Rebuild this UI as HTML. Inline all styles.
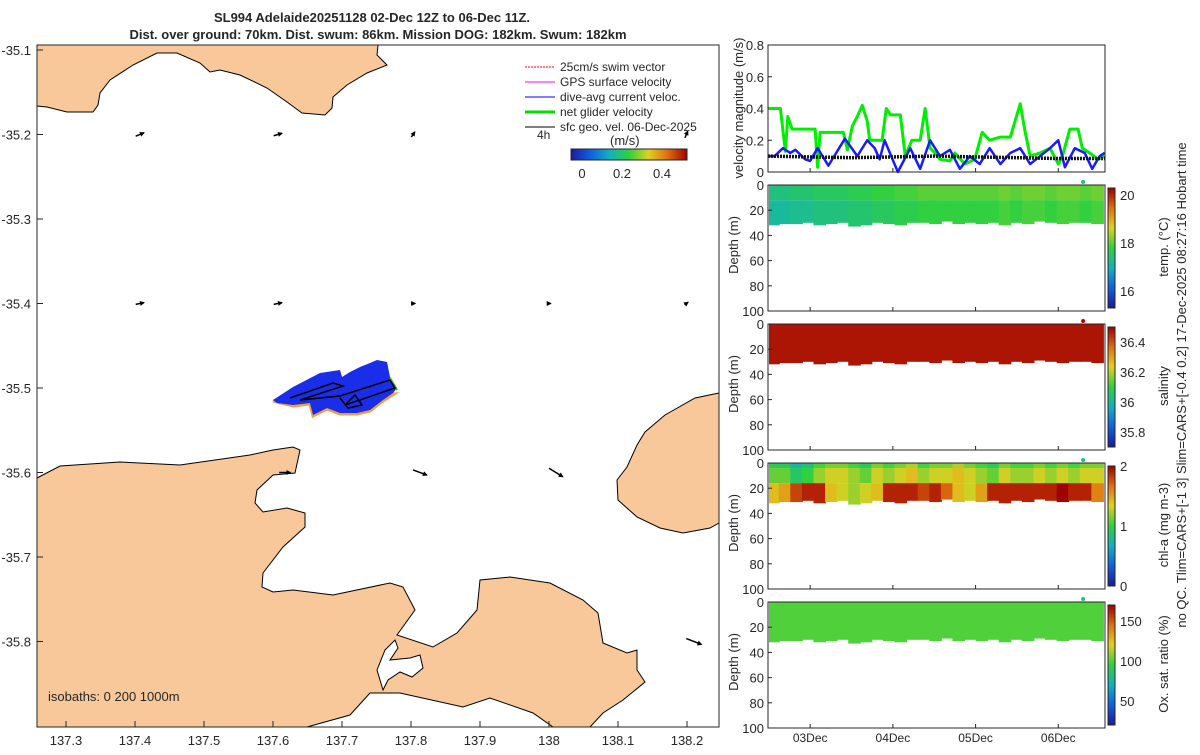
<!DOCTYPE html>
<html><head><meta charset="utf-8"><style>
body{margin:0;background:#fff;font-family:"Liberation Sans",sans-serif}
svg text{font-family:"Liberation Sans",sans-serif;font-size:13px;fill:#262626}
</style></head><body>
<svg id="s" width="1200" height="750">
<defs><marker id="ah" markerWidth="5" markerHeight="5" refX="4" refY="2.5" orient="auto" markerUnits="userSpaceOnUse"><path d="M0,0 L5,2.5 L0,5 z" fill="#000"/></marker>
<linearGradient id="cmap" x1="0" x2="1"><stop offset="0" stop-color="#1a1a9a"/><stop offset=".17" stop-color="#1060e0"/><stop offset=".33" stop-color="#10b0c0"/><stop offset=".5" stop-color="#30d040"/><stop offset=".67" stop-color="#e0d020"/><stop offset=".83" stop-color="#e07010"/><stop offset="1" stop-color="#a00000"/></linearGradient>
<linearGradient id="cmapv" x1="0" y1="1" x2="0" y2="0"><stop offset="0" stop-color="#1a1a9a"/><stop offset=".17" stop-color="#1060e0"/><stop offset=".33" stop-color="#10b0c0"/><stop offset=".5" stop-color="#30d040"/><stop offset=".67" stop-color="#e0d020"/><stop offset=".83" stop-color="#e07010"/><stop offset="1" stop-color="#a00000"/></linearGradient></defs>
<text x="372" y="22" text-anchor="middle" font-weight="bold">SL994 Adelaide20251128 02-Dec 12Z to 06-Dec 11Z.</text>
<text x="378" y="39" text-anchor="middle" font-weight="bold">Dist. over ground: 70km. Dist. swum: 86km. Mission DOG: 182km. Swum: 182km</text>
<g id="map">
<polygon fill="#f8c89a" stroke="#000" points="37,45 378,45 377,55 387,65 367,73 347,85 333,97 332,108 325,115 302,113 287,102 267,88 240,75 220,70 210,72 200,63 177,53 157,53 133,65 110,80 100,93 98,105 93,112 67,112 47,107 37,106"/>
<polygon fill="#f8c89a" stroke="#000" points="37,478 60,466 120,462 180,465 250,455 273,450 293,447 300,450 295,473 273,475 257,490 255,503 263,512 287,508 305,513 305,527 283,547 263,573 262,587 273,592 293,590 333,595 390,583 403,587 415,610 397,635 433,647 457,633 477,610 480,580 510,577 550,583 583,600 598,613 603,643 627,653 637,650 637,670 645,682 623,700 603,713 590,727 553,727 533,713 490,698 463,707 400,693 370,693 350,715 307,727 37,727"/>
<polygon fill="#fff" stroke="#000" points="385,650 395,640 398,648 390,660 410,658 420,655 423,668 412,677 400,672 388,680 383,690 377,670"/>
<polygon fill="#f8c89a" stroke="#000" points="719,393 695,398 665,415 645,432 637,445 627,467 617,480 618,500 637,517 660,528 683,533 710,528 719,523"/>
<polygon fill="none" stroke="#f0a040" stroke-width="3" points="273,401 293,406 310,404 313,416 327,409 340,414 357,414 370,411 383,401 394,394"/>
<polygon fill="#1a2de8" points="273,400 293,387 320,373 340,370 342,377 350,372 360,367 370,363 377,360 387,362 390,377 397,388 393,393 383,400 370,410 357,413 340,413 327,408 313,415 310,403 293,405 277,403"/>
<polyline fill="none" stroke="#20c020" stroke-width="2" points="390,378 397,390"/>
<polyline fill="none" stroke="#000" stroke-width="1.5" points="290,398 333,383 343,386 300,400 340,396 390,380 395,388 360,400 345,405 355,395 362,405 348,408 340,398"/>
<g id="arrows"></g>
<rect x="37" y="45" width="682" height="682" fill="none" stroke="#262626"/>
<g id="mapticks"></g>
<text x="48" y="701">isobaths: 0   200  1000m</text>
<g>
<line x1="525" y1="67" x2="555" y2="67" stroke="#ff0000" stroke-dasharray="2,1"/><text x="560" y="71" style="font-size:12px">25cm/s swim vector</text>
<line x1="525" y1="82" x2="555" y2="82" stroke="#ff00ff"/><text x="560" y="86" style="font-size:12px">GPS surface velocity</text>
<line x1="525" y1="97" x2="555" y2="97" stroke="#0000ff"/><text x="560" y="101" style="font-size:12px">dive-avg current veloc.</text>
<line x1="525" y1="112" x2="555" y2="112" stroke="#00dd00" stroke-width="3"/><text x="560" y="116" style="font-size:12px">net glider velocity</text>
<line x1="525" y1="127" x2="555" y2="127" stroke="#000"/><text x="560" y="131" style="font-size:12px">sfc geo. vel. 06-Dec-2025</text>
<text x="537" y="139" style="font-size:12px">4h</text>
<text x="610" y="145" style="font-size:13px">(m/s)</text>
</g>
<rect x="571" y="149" width="116" height="11" fill="url(#cmap)" stroke="#262626"/>
<text x="582" y="178" text-anchor="middle">0</text><text x="622" y="178" text-anchor="middle">0.2</text><text x="662" y="178" text-anchor="middle">0.4</text>
</g>
<g id="right"></g>
<text transform="translate(1186,385) rotate(-90)" text-anchor="middle">no QC. Tlim=CARS+[-1 3] Slim=CARS+[-0.4 0.2] 17-Dec-2025 08:27:16 Hobart time</text>
</svg>
<script>
const NS="http://www.w3.org/2000/svg";
function el(t,a,p){const e=document.createElementNS(NS,t);for(const k in a)e.setAttribute(k,a[k]);(p||document.getElementById('s')).appendChild(e);return e;}
// ---- map data ----
const lonTicks=[137.3,137.4,137.5,137.6,137.7,137.8,137.9,138,138.1,138.2];
const latTicks=[-35.1,-35.2,-35.3,-35.4,-35.5,-35.6,-35.7,-35.8];
const arrowLon=[137.407,137.607,137.803,138.199,137.407,137.607,137.803,138.0,138.199,137.617,137.813,138.01,138.21];
const arrowLat=[-35.2,-35.2,-35.2,-35.2,-35.4,-35.4,-35.4,-35.4,-35.4,-35.6,-35.6,-35.6,-35.8];
const arrowU=[0.012,0.012,0.005,0.004,0.012,0.012,0.006,0.005,0.005,0.016,0.02,0.02,0.022];
const arrowV=[0.004,0.003,0.006,0.008,0.002,0.002,0.0,0.0,0.003,0.0,-0.006,-0.01,-0.007];
const lonX=l=>549+(l-138)*690, latY=l=>50+(-35.1-l)*845;
const mt=document.getElementById('mapticks');
lonTicks.forEach(l=>{const x=lonX(l);el('line',{x1:x,y1:727,x2:x,y2:721,stroke:'#262626'},mt);const t=el('text',{x:x,y:745,'text-anchor':'middle'},mt);t.textContent=String(l);});
latTicks.forEach(l=>{const y=latY(l);el('line',{x1:37,y1:y,x2:43,y2:y,stroke:'#262626'},mt);const t=el('text',{x:31,y:y+5,'text-anchor':'end'},mt);t.textContent=l.toFixed(1);});
const ag=document.getElementById('arrows');
arrowLon.forEach((lo,i)=>{const x=lonX(lo),y=latY(arrowLat[i]);const du=arrowU[i]*690,dv=-arrowV[i]*845;
 const a=el('line',{x1:x-du/2,y1:y-dv/2,x2:x+du/2,y2:y+dv/2,stroke:'#000','stroke-width':1.5,'marker-end':'url(#ah)'},ag);
 
 });
// ---- right panels ----
const R=document.getElementById('right');
const X0=768,X1=1105,T0=2.49,T1=6.565;
const tx=t=>X0+(t-T0)/(T1-T0)*(X1-X0);
const dayTicks=[3,4,5,6];const dayLabels=['03Dec','04Dec','05Dec','06Dec'];
const greenT=[2.49,2.64,2.70,2.73,2.78,3.06,3.09,3.12,3.40,3.45,3.51,3.57,3.63,3.69,3.72,3.87,3.92,3.97,4.09,4.15,4.23,4.33,4.39,4.45,4.51,4.57,4.69,4.75,4.87,4.99,5.08,5.17,5.30,5.42,5.54,5.60,5.66,5.78,5.90,6.00,6.05,6.14,6.24,6.29,6.38,6.48,6.56];
const green=[0.4,0.4,0.13,0.35,0.27,0.27,0.03,0.25,0.25,0.14,0.29,0.35,0.42,0.32,0.2,0.2,0.4,0.36,0.36,0.1,0.2,0.2,0.4,0.15,0.12,0.08,0.07,0.12,0.05,0.08,0.25,0.2,0.22,0.22,0.43,0.25,0.1,0.12,0.15,0.05,0.1,0.27,0.27,0.15,0.12,0.08,0.1];
const blueT=[2.49,2.57,2.67,2.76,2.82,2.94,3.0,3.09,3.22,3.42,3.57,3.69,3.78,3.84,3.90,4.06,4.21,4.33,4.45,4.57,4.69,4.81,4.93,5.05,5.17,5.30,5.42,5.54,5.66,5.78,5.90,6.0,6.08,6.20,6.32,6.41,6.50,6.56];
const blue=[0.1,0.1,0.15,0.12,0.14,0.08,0.07,0.15,0.04,0.21,0.1,0.2,0.15,0.08,0.2,0.0,0.15,0.02,0.2,0.1,0.14,0.02,0.1,0.05,0.15,0.05,0.12,0.15,0.05,0.1,0.15,0.2,0.03,0.15,0.12,0.02,0.1,0.12];
const blackT=[2.49,3.0,3.5,4.0,4.5,5.0,5.5,6.0,6.56];
const black=[0.1,0.095,0.09,0.095,0.1,0.095,0.09,0.085,0.085];
const velTicks=[0,0.2,0.4,0.6,0.8];
const vy=v=>172-v/0.8*127;
function axisX(y0,y1,labels){dayTicks.forEach((d,i)=>{el('line',{x1:tx(d),y1:y1,x2:tx(d),y2:y1-4,stroke:'#262626'},R);if(labels){const t=el('text',{x:tx(d),y:y1+14,'text-anchor':'middle',style:'font-size:12px'},R);t.textContent=dayLabels[i];}});}
velTicks.forEach(v=>{el('line',{x1:X0,y1:vy(v),x2:X0+4,y2:vy(v),stroke:'#262626'},R);const t=el('text',{x:X0-4,y:vy(v)+5,'text-anchor':'end'},R);t.textContent=String(v);});
function line(T,arr,c,w,name,dash){const p=el('polyline',{points:T.map((t,i)=>tx(t)+','+vy(arr[i])).join(' '),fill:'none',stroke:c,'stroke-width':w,'stroke-linejoin':'round'},R);if(dash)p.setAttribute('stroke-dasharray',dash);}
line(greenT,green,'#00ee00',3,'net-glider-speed-line');line(blueT,blue,'#1a1aff',2.5,'current-speed-line');line(blackT,black,'#111',3.5,'geo-velocity-line','2,1');
el('rect',{x:X0,y:45,width:X1-X0,height:127,fill:'none',stroke:'#262626'},R);axisX(45,172,false);
let t=el('text',{transform:'translate(743,108) rotate(-90)','text-anchor':'middle'},R);t.textContent='velocity magnitude (m/s)';
// heatmap columns
const colT=[2.55,2.69,2.83,2.97,3.11,3.25,3.39,3.53,3.67,3.81,3.95,4.09,4.23,4.37,4.51,4.65,4.79,4.93,5.07,5.21,5.35,5.49,5.63,5.77,5.91,6.05,6.19,6.33,6.47];
const bandDepth=[32,31,31,30,32,31,30,33,32,30,31,32,30,30,31,29,31,30,31,30,32,30,31,29,30,31,30,30,31];
const tempVal=[17.3,17.3,17.4,17.4,17.5,17.5,17.5,17.6,17.6,17.7,17.7,17.8,17.8,17.9,17.9,17.9,17.9,17.9,17.9,17.9,18.0,17.9,18.0,18.0,17.9,18.0,18.0,17.9,18.0];
const chlTop=[1.1,1.1,0.9,1.0,1.2,1.3,1.3,1.2,1.1,1.3,1.2,1.3,1.4,1.2,1.3,1.3,1.4,1.3,1.2,1.1,1.3,1.2,1.2,1.3,1.2,1.3,1.2,1.3,1.3];
const chlDeep=[1.4,1.5,1.8,1.9,1.9,1.4,1.3,1.2,1.3,1.4,1.9,1.9,1.9,1.8,1.9,1.7,1.4,1.3,1.5,1.9,1.9,1.9,1.9,1.9,1.9,2.0,1.9,1.9,1.6];
const stops=[[26,26,154],[16,96,224],[16,176,192],[48,208,64],[224,208,32],[224,112,16],[160,0,0]];
function cmap(f){f=Math.max(0,Math.min(1,f))*6;const i=Math.min(5,Math.floor(f)),r=f-i,a=stops[i],b=stops[i+1];return `rgb(${a.map((v,k)=>Math.round(v+(b[k]-v)*r)).join(',')})`;}
const panels=[{y:185,name:'temperature',lab:'temp. (°C)',ticks:[16,18,20],lo:15.3,hi:20.3,fn:i=>[[0,12,(tempVal[i]+0.1-15.3)/5],[12,bandDepth[i],(tempVal[i]-0.1-15.3)/5]]},
{y:324,name:'salinity',lab:'salinity',ticks:[35.8,36,36.2,36.4],lo:35.7,hi:36.5,fn:i=>[[0,bandDepth[i],0.97]]},
{y:463,name:'chlorophyll',lab:'chl-a (mg m-3)',ticks:[0,1,2],lo:0,hi:2,fn:i=>[[0,4,chlTop[i]/2-0.08],[4,16,chlTop[i]/2],[16,bandDepth[i],chlDeep[i]/2]]},
{y:602,name:'oxygen',lab:'Ox. sat. ratio (%)',ticks:[50,100,150],lo:20,hi:170,fn:i=>[[0,bandDepth[i],0.53]]}];
panels.forEach(P=>{const H=126,dy=d=>P.y+d*1.26;
 const g=el('g',{},R);
 const w=tx(colT[1])-tx(colT[0]);
 colT.forEach((c,i)=>{P.fn(i).forEach(s=>{const x=Math.max(X0+1,tx(c)-w/2);const xe=Math.min(X1-1,tx(c)+w/2+1);el('rect',{x:x,y:dy(s[0]),width:xe-x,height:(s[1]-s[0])*1.26,fill:cmap(s[2])},g);});});
 el('rect',{x:X0,y:P.y,width:X1-X0,height:H,fill:'none',stroke:'#262626'},R);axisX(P.y,P.y+H,P.name=='oxygen');
 [0,20,40,60,80,100].forEach(d=>{el('line',{x1:X0,y1:dy(d),x2:X0+4,y2:dy(d),stroke:'#262626'},R);const t=el('text',{x:X0-4,y:dy(d)+5,'text-anchor':'end'},R);t.textContent=String(d);});
 const t=el('text',{transform:`translate(738,${P.y+60}) rotate(-90)`,'text-anchor':'middle'},R);t.textContent='Depth (m)';
 const cb=el('rect',{x:1108,y:P.y+3,width:7,height:H-6,fill:'url(#cmapv)',stroke:'#262626'},R);
 P.ticks.forEach(v=>{const y=P.y+H-3-(v-P.lo)/(P.hi-P.lo)*(H-6);const t=el('text',{x:1120,y:y+5},R);t.textContent=String(v);});
 const l=el('text',{transform:`translate(1168,${P.y+62}) rotate(-90)`,'text-anchor':'middle'},R);l.textContent=P.lab;
 el('circle',{cx:tx(6.3),cy:P.y-3,r:2,fill:P.name=='salinity'?'#c00000':'#20c080'},R);
});
</script>
</body></html>
